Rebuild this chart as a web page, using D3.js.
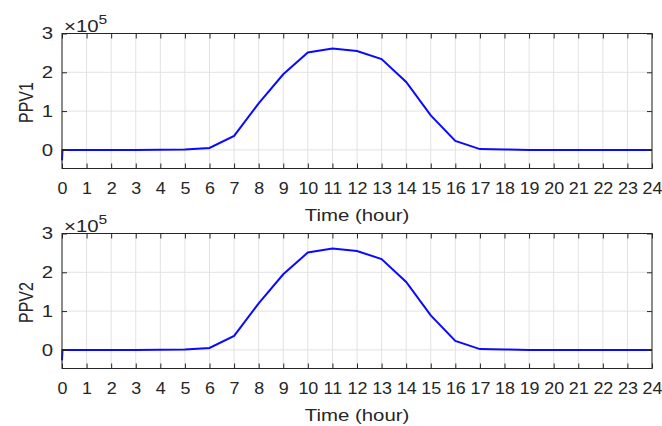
<!DOCTYPE html>
<html>
<head>
<meta charset="utf-8">
<script src="https://cdn.jsdelivr.net/npm/d3@7"></script>
<style>
  body { margin: 0; background: #fff; }
  svg { display: block; font-family: "Liberation Sans", Arial, sans-serif; }
</style>
</head>
<body>
<svg id="chart" width="662" height="426"></svg>
<script>
// hours (first two points make the short drop at t = 0)
const hours = [0, 0.02, 1, 2, 3, 4, 5, 6, 7, 8, 9, 10, 11, 12, 13, 14, 15, 16, 17, 18, 19, 20, 21, 22, 23, 24];
// power, in units of 1e5
const ppv1 = [-0.27, 0, 0, 0, 0, 0.005, 0.01, 0.05, 0.36, 1.2, 1.95, 2.51, 2.61, 2.55, 2.34, 1.75, 0.89, 0.23, 0.02, 0.01, 0, 0, 0, 0, 0, 0];
const ppv2 = [-0.27, 0, 0, 0, 0, 0.005, 0.01, 0.05, 0.36, 1.2, 1.95, 2.51, 2.61, 2.55, 2.34, 1.75, 0.89, 0.23, 0.02, 0.01, 0, 0, 0, 0, 0, 0];
const xTicks = d3.range(0, 25);
const yTicks = [0, 1, 2, 3];

const svg = d3.select("#chart");
const left = 62, right = 652;
const sx = 1.12; // the picture is a bit wider than tall, stretch text the same way
const ink = "#262626";

const x = d3.scaleLinear().domain([0, 24]).range([left, right]);

function drawPanel(top, bottom, values, label) {
    const y = d3.scaleLinear().domain([-0.48, 3]).range([bottom, top]);
    const g = svg.append("g");

    // grid
    g.selectAll(".gx").data(xTicks).enter().append("line")
        .attr("x1", d => x(d)).attr("x2", d => x(d))
        .attr("y1", top).attr("y2", bottom)
        .attr("stroke", "#e2e2e2").attr("stroke-width", 1);
    g.selectAll(".gy").data(yTicks).enter().append("line")
        .attr("x1", left).attr("x2", right)
        .attr("y1", d => y(d)).attr("y2", d => y(d))
        .attr("stroke", "#e2e2e2").attr("stroke-width", 1);

    // data line
    const line = d3.line().x((d, i) => x(hours[i])).y(d => y(d));
    g.append("path")
        .datum(values)
        .attr("d", line)
        .attr("fill", "none")
        .attr("stroke", "#0a0aff")
        .attr("stroke-width", 2);

    // axes with inward ticks, box all round
    const tl = 5;
    g.append("g").attr("transform", `translate(0,${bottom})`)
        .call(d3.axisBottom(x).tickValues(xTicks).tickSizeInner(-tl).tickSizeOuter(0).tickPadding(14).tickFormat(d3.format("d")))
        .call(a => a.selectAll("text").attr("font-size", 16).attr("fill", ink)
            .attr("font-family", null).attr("transform", `scale(${sx},1)`));
    g.append("g").attr("transform", `translate(0,${top})`)
        .call(d3.axisTop(x).tickValues(xTicks).tickSizeInner(-tl).tickSizeOuter(0).tickFormat(""));
    g.append("g").attr("transform", `translate(${left},0)`)
        .call(d3.axisLeft(y).tickValues(yTicks).tickSizeInner(-tl).tickSizeOuter(0).tickPadding(9 / 1.2).tickFormat(d3.format("d")))
        .call(a => a.selectAll("text").attr("font-size", 17).attr("fill", ink)
            .attr("font-family", null).attr("transform", "scale(1.2,1)"));
    g.append("g").attr("transform", `translate(${right},0)`)
        .call(d3.axisRight(y).tickValues(yTicks).tickSizeInner(-tl).tickSizeOuter(0).tickFormat(""));
    g.selectAll(".domain").remove();
    g.selectAll(".tick line").attr("stroke", ink);

    g.append("rect")
        .attr("x", left).attr("y", top)
        .attr("width", right - left).attr("height", bottom - top)
        .attr("fill", "none").attr("stroke", ink).attr("stroke-width", 1);

    // exponent label
    const ex = g.append("text")
        .attr("transform", `translate(${left + 2},${top - 2}) scale(1.2,1)`)
        .attr("fill", ink).attr("font-size", 17);
    ex.append("tspan").text("\u00d710");
    ex.append("tspan").attr("dy", -8).attr("font-size", 13).text("5");

    g.append("text")
        .attr("transform", `translate(${(left + right) / 2},${bottom + 52}) scale(1.2,1)`)
        .attr("text-anchor", "middle").attr("font-size", 17)
        .attr("fill", ink)
        .text("Time (hour)");

    g.append("text")
        .attr("transform", `translate(33,${y(1.22)}) scale(1.25,1) rotate(-90)`)
        .attr("text-anchor", "middle").attr("font-size", 16)
        .attr("fill", ink)
        .text(label);
}

drawPanel(33.5, 168.5, ppv1, "PPV1");
drawPanel(233.5, 368.5, ppv2, "PPV2");
</script>
</body>
</html>
